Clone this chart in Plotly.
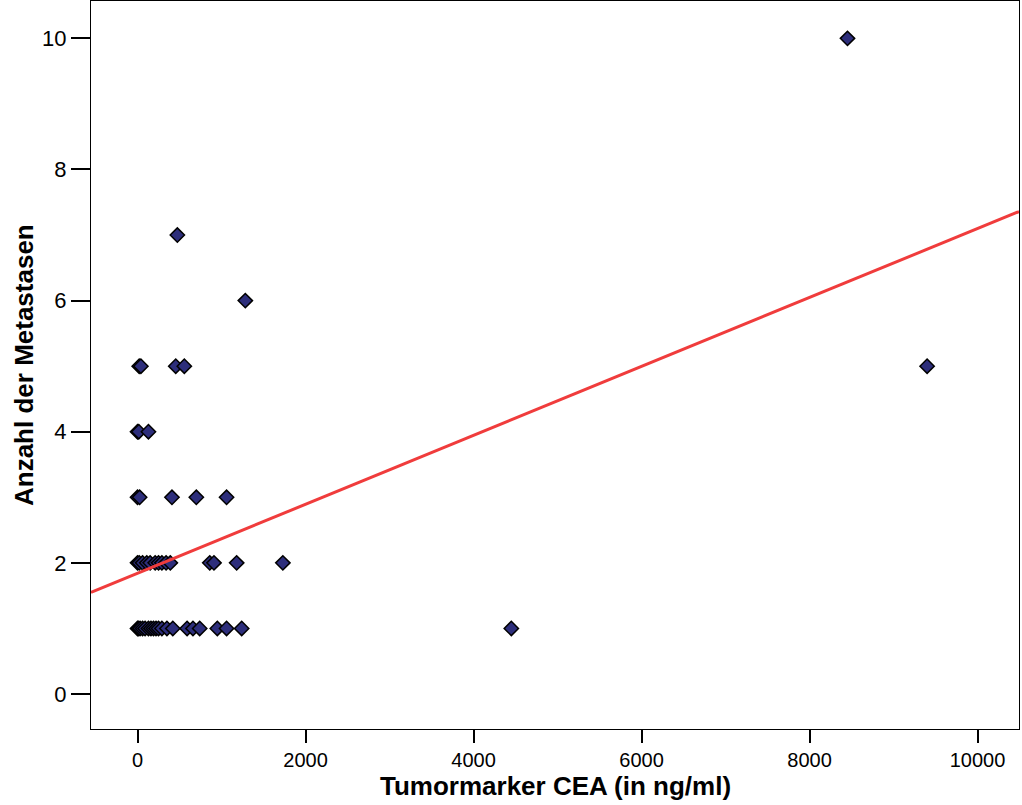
import plotly.graph_objects as go

# Data (CEA in ng/ml, number of metastases)
cea_1 = [0, 10, 30, 60, 90, 130, 160, 190, 220, 250, 290, 350, 420, 590, 660, 740, 950, 1060, 1240, 4450]
cea_2 = [0, 20, 60, 110, 150, 210, 250, 290, 340, 390, 860, 910, 1180, 1730]
cea_3 = [0, 25, 410, 700, 1060]
cea_4 = [0, 15, 130]
cea_5 = [20, 40, 455, 557, 9400]
cea_6 = [1283]
cea_7 = [474]
cea_10 = [8452]

groups = {1: cea_1, 2: cea_2, 3: cea_3, 4: cea_4, 5: cea_5, 6: cea_6, 7: cea_7, 10: cea_10}

# Linear fit line
fit_intercept = 1.842
fit_slope = 0.0005257

x_range = [-554, 10494]
y_range = [-0.534, 10.57]
x_ticks = [0, 2000, 4000, 6000, 8000, 10000]
y_ticks = [0, 2, 4, 6, 8, 10]

xs, ys = [], []
for k, vals in groups.items():
    for v in vals:
        xs.append(v)
        ys.append(k)

fig = go.Figure()
fig.add_trace(go.Scatter(
    x=xs, y=ys, mode="markers",
    marker=dict(symbol="diamond", size=11, color="#2d2e7b",
                line=dict(color="black", width=1.5)),
    showlegend=False, hoverinfo="x+y"))

lx = [x_range[0], x_range[1]]
ly = [fit_intercept + fit_slope * v for v in lx]
fig.add_trace(go.Scatter(x=lx, y=ly, mode="lines",
                         line=dict(color="#f03c3c", width=3),
                         showlegend=False, hoverinfo="skip"))

fig.update_layout(
    width=1022, height=805,
    margin=dict(l=91, r=3, t=1, b=76),
    paper_bgcolor="white", plot_bgcolor="white",
    font=dict(family="Liberation Sans, Arial, sans-serif", color="black"),
    xaxis=dict(range=x_range, tickvals=x_ticks, ticktext=[str(t) for t in x_ticks],
               showgrid=False, zeroline=False, showline=True, mirror=True,
               linecolor="black", linewidth=1,
               ticks="outside", ticklen=13, tickwidth=2, tickcolor="black",
               tickfont=dict(size=20, family="Liberation Sans Narrow, Arial Narrow, Liberation Sans, Arial")),
    yaxis=dict(range=y_range, tickvals=y_ticks, ticktext=[str(t) for t in y_ticks],
               showgrid=False, zeroline=False, showline=True, mirror=True,
               linecolor="black", linewidth=1,
               ticks="outside", ticklen=19, tickwidth=1.5, tickcolor="black",
               tickfont=dict(size=22)),
    annotations=[
        dict(text="<b>Tumormarker CEA (in ng/ml)</b>", xref="paper", yref="paper",
             x=0.5, y=-(786 - 729) / 728, xanchor="center", yanchor="middle",
             showarrow=False, font=dict(size=26)),
        dict(text="<b>Anzahl der Metastasen</b>", xref="paper", yref="paper",
             x=-(91 - 24) / 928, y=0.5, xanchor="center", yanchor="middle",
             textangle=-90, showarrow=False, font=dict(size=26)),
    ],
)

fig.write_html("out.html")
